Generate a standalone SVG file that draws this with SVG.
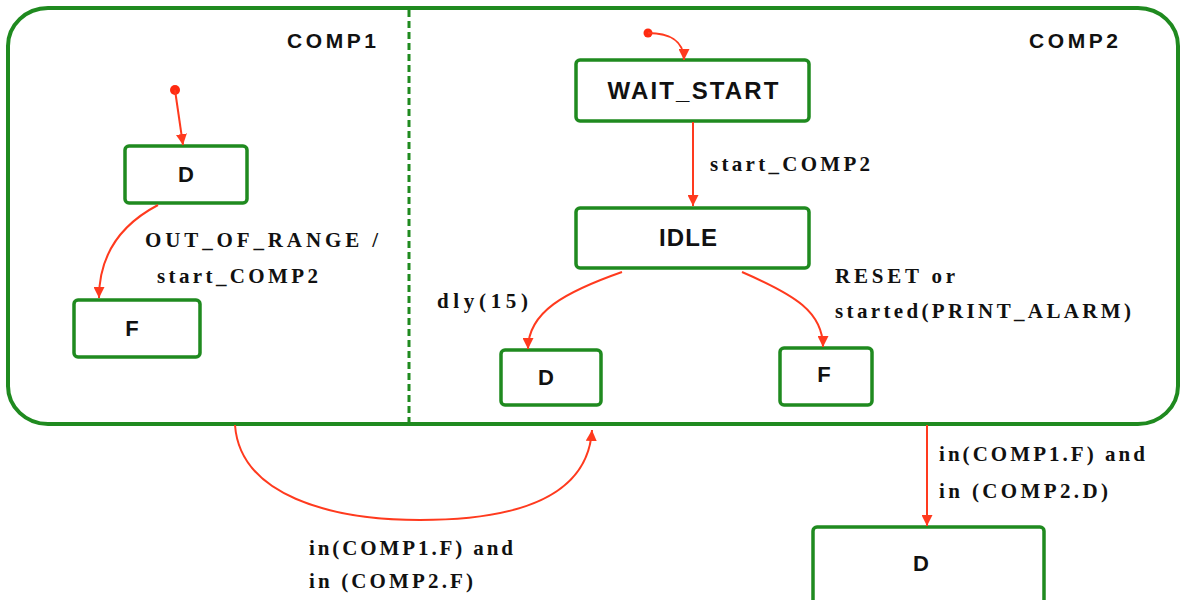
<svg xmlns="http://www.w3.org/2000/svg" width="1182" height="600" viewBox="0 0 1182 600">
<style>
.frame{fill:none;stroke:#1f8a1f;stroke-width:4}
.state{fill:#fff;stroke:#1f8a1f;stroke-width:3.5}
.sname{font-family:"Liberation Sans",Arial,sans-serif;font-weight:bold;fill:#111;text-anchor:middle}
.lbl{font-family:"Liberation Serif","Times New Roman",serif;font-weight:bold;font-size:21px;fill:#111}
.comp{font-family:"Liberation Sans",Arial,sans-serif;font-weight:bold;font-size:21px;fill:#111}
.tr{fill:none;stroke:#ff3a1e;stroke-width:2}
.init{fill:#ff2a10}
</style>
<defs>
<marker id="ah" viewBox="0 0 10 10" refX="10" refY="5" markerWidth="11" markerHeight="11" markerUnits="userSpaceOnUse" orient="auto">
<path d="M0,0 L10,5 L0,10 z" fill="#ff3a1e"/>
</marker>
</defs>
<rect width="1182" height="600" fill="#fff"/>
<g id="outer">
<rect class="frame" x="8" y="8" width="1170" height="416" rx="40" ry="38"/>
<line x1="409" y1="10" x2="409" y2="424" stroke="#1f8a1f" stroke-width="3" stroke-dasharray="7,4"/>
<text class="comp" x="287" y="48" textLength="89">COMP1</text>
<text class="comp" x="1029" y="48" textLength="89">COMP2</text>
</g>
<g id="c1_D"><rect class="state" x="125" y="146" width="122" height="57" rx="4"/><text class="sname" x="186" y="182" font-size="22">D</text></g>
<g id="c1_F"><rect class="state" x="74" y="300" width="126" height="57" rx="4"/><text class="sname" x="132" y="336" font-size="22">F</text></g>
<g id="wait_start"><rect class="state" x="576" y="60" width="233" height="61" rx="4"/><text class="sname" x="693" y="99" font-size="24" textLength="171">WAIT_START</text></g>
<g id="idle"><rect class="state" x="576" y="208" width="233" height="60" rx="4"/><text class="sname" x="688" y="246" font-size="24" textLength="58">IDLE</text></g>
<g id="c2_D"><rect class="state" x="501" y="350" width="100" height="55" rx="4"/><text class="sname" x="546" y="385" font-size="22">D</text></g>
<g id="c2_F"><rect class="state" x="780" y="348" width="92" height="57" rx="4"/><text class="sname" x="824" y="382" font-size="22">F</text></g>
<g id="final_D"><rect class="state" x="813" y="527" width="231" height="85" rx="4"/><text class="sname" x="921" y="571" font-size="22">D</text></g>
<g id="connectors">
<circle class="init" cx="175" cy="90" r="5"/>
<path class="tr" d="M175,90 L183,145" marker-end="url(#ah)"/>
<path class="tr" d="M158,205 C120,225 99,255 99,298" marker-end="url(#ah)"/>
<circle class="init" cx="648" cy="33" r="4.5"/>
<path class="tr" d="M648,33 C668,33 684,40 684,60" marker-end="url(#ah)"/>
<path class="tr" d="M693,122 L693,206" marker-end="url(#ah)"/>
<path class="tr" d="M622,272 C565,292 528,312 528,349" marker-end="url(#ah)"/>
<path class="tr" d="M742,272 C795,295 823,312 823,347" marker-end="url(#ah)"/>
<path class="tr" d="M235,425 C240,495 330,520 420,520 C520,520 588,495 592,430" marker-end="url(#ah)"/>
<path class="tr" d="M927,425 L927,526" marker-end="url(#ah)"/>
</g>
<g id="labels">
<text class="lbl" x="145" y="247" textLength="233">OUT_OF_RANGE /</text>
<text class="lbl" x="157" y="283" textLength="161">start_COMP2</text>
<text class="lbl" x="710" y="171" textLength="160">start_COMP2</text>
<text class="lbl" x="437" y="308" textLength="91">dly(15)</text>
<text class="lbl" x="835" y="283" textLength="120">RESET or</text>
<text class="lbl" x="835" y="318" textLength="296">started(PRINT_ALARM)</text>
<text class="lbl" x="309" y="555" textLength="204">in(COMP1.F) and</text>
<text class="lbl" x="309" y="588" textLength="164">in (COMP2.F)</text>
<text class="lbl" x="939" y="461" textLength="206">in(COMP1.F) and</text>
<text class="lbl" x="939" y="498" textLength="169">in (COMP2.D)</text>
</g>
</svg>
